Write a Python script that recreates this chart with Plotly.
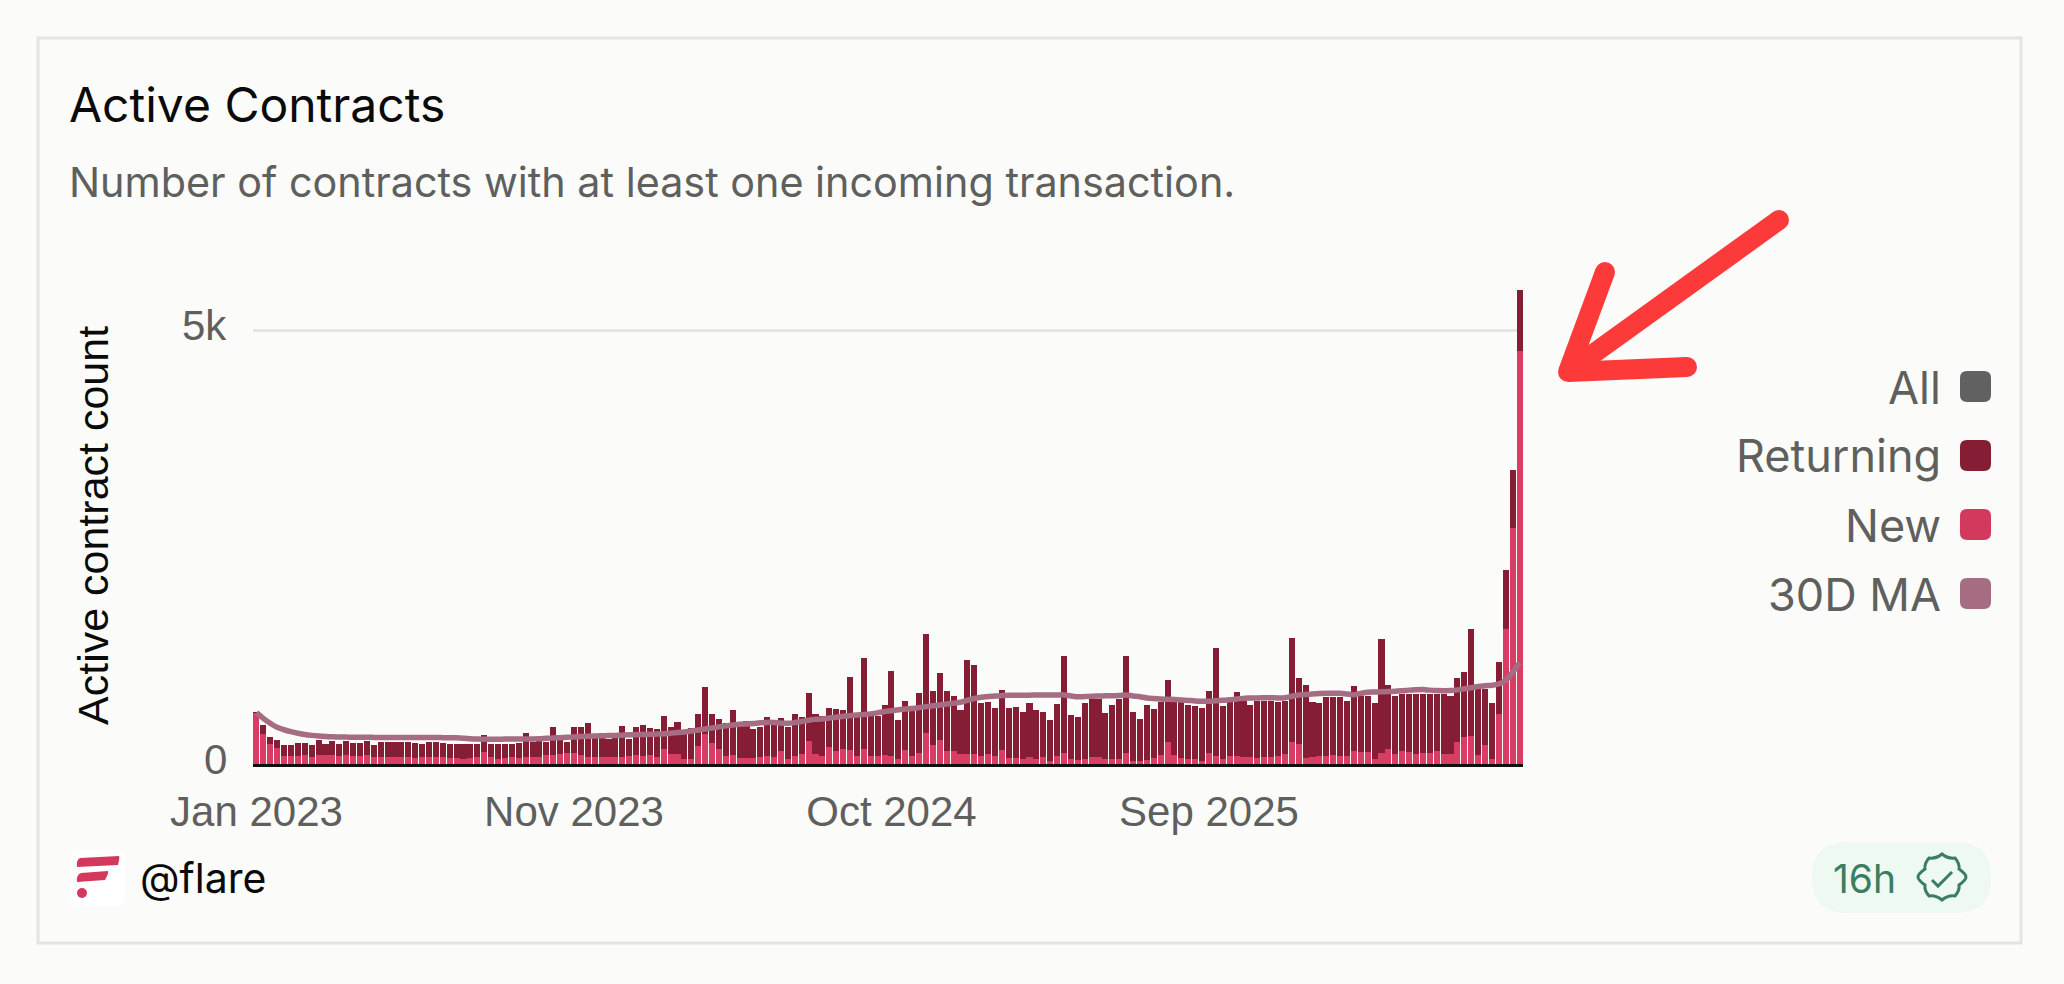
"""Active Contracts card: weekly new / returning stacked bars with a 30D MA line."""

import pandas as pd
import plotly.graph_objects as go

WIDTH = 2064
HEIGHT = 984

# Values, one per week.
ALL_COUNT = [
    593, 450, 316, 277, 219, 219, 239, 239, 219, 277, 227, 266, 227, 266, 246, 246,
    266, 216, 258, 258, 258, 258, 258, 246, 227, 258, 258, 246, 231, 231, 231, 231,
    231, 335, 231, 231, 231, 231, 246, 362, 258, 316, 258, 431, 335, 258, 431, 431,
    470, 296, 362, 285, 362, 439, 285, 424, 450, 420, 408, 558, 431, 485, 366, 416,
    578, 893, 578, 520, 477, 628, 443, 500, 400, 424, 539, 500, 531, 424, 574, 539,
    824, 578, 558, 643, 635, 624, 1001, 539, 1220, 578, 558, 685, 1070, 508, 732, 608,
    820, 1494, 847, 1051, 847, 782, 628, 1205, 1147, 705, 720, 647, 855, 647, 662, 604,
    701, 624, 597, 508, 693, 1247, 570, 539, 701, 751, 751, 585, 681, 751, 1244, 597,
    520, 681, 635, 712, 970, 712, 712, 685, 666, 647, 847, 1336, 666, 712, 828, 724,
    681, 724, 724, 724, 720, 724, 1448, 989, 912, 712, 701, 770, 770, 770, 724, 905,
    789, 789, 705, 1440, 912, 782, 808, 808, 808, 808, 808, 808, 808, 789, 993, 1059,
    1559, 866, 866, 705, 1174, 2238, 3391, 5467,
]
NEW_COUNT = [
    590, 347, 227, 181, 96, 96, 96, 104, 77, 104, 104, 104, 96, 104, 92, 92,
    104, 85, 77, 77, 77, 77, 77, 65, 77, 77, 77, 77, 65, 65, 54, 65,
    77, 142, 85, 54, 65, 77, 65, 77, 85, 77, 104, 104, 115, 123, 131, 104,
    85, 85, 77, 85, 77, 77, 92, 104, 92, 104, 85, 173, 116, 116, 58, 58,
    212, 347, 239, 173, 96, 108, 69, 69, 69, 85, 92, 77, 154, 58, 92, 116,
    262, 116, 96, 193, 146, 173, 166, 96, 173, 96, 96, 108, 96, 58, 166, 96,
    123, 358, 219, 277, 154, 146, 116, 116, 116, 96, 116, 96, 162, 69, 69, 54,
    77, 58, 77, 38, 96, 123, 58, 46, 58, 77, 77, 58, 58, 58, 123, 31,
    31, 46, 69, 108, 258, 108, 69, 62, 54, 31, 131, 96, 58, 96, 96, 77,
    77, 69, 77, 85, 92, 116, 250, 231, 69, 85, 96, 96, 104, 96, 89, 154,
    142, 135, 58, 123, 173, 116, 146, 135, 116, 127, 123, 154, 116, 116, 258, 316,
    327, 108, 219, 58, 578, 1557, 2722, 4764,
]
MA_30D = [
    593, 527, 470, 423, 395, 373, 355, 340, 330, 323, 318, 314, 312, 310, 308, 308,
    308, 307, 306, 306, 306, 306, 306, 306, 305, 305, 305, 304, 303, 302, 298, 292,
    288, 285, 285, 285, 287, 288, 289, 289, 289, 291, 296, 300, 304, 308, 312, 316,
    320, 323, 325, 328, 330, 333, 336, 338, 340, 342, 345, 348, 355, 362, 370, 380,
    392, 404, 415, 428, 440, 450, 458, 462, 468, 475, 480, 478, 472, 470, 478, 490,
    505, 515, 520, 531, 540, 550, 558, 565, 570, 578, 590, 605, 615, 625, 635, 640,
    650, 662, 672, 681, 692, 702, 712, 735, 755, 770, 778, 785, 789, 792, 793, 794,
    794, 795, 795, 795, 796, 797, 785, 775, 778, 782, 785, 786, 788, 790, 797, 785,
    775, 762, 755, 750, 747, 743, 738, 733, 728, 725, 724, 730, 735, 740, 750, 757,
    762, 762, 763, 764, 762, 765, 781, 795, 802, 808, 812, 815, 816, 816, 808, 800,
    815, 828, 830, 833, 836, 839, 845, 852, 856, 858, 852, 848, 846, 847, 855, 868,
    880, 893, 902, 908, 924, 963, 1059, 1165,
]
WEEKS = pd.date_range("2023-01-09", periods=len(ALL_COUNT), freq="7D")
RETURNING_COUNT = [a - n for a, n in zip(ALL_COUNT, NEW_COUNT)]
X_TICK_WEEKS = [WEEKS[0], WEEKS[46], WEEKS[92], WEEKS[138]]
Y_TICKS = [0, 5000]
Y_TICK_LABELS = ["0", "5k"]

LEGEND_LABELS = ["All", "Returning", "New", "30D MA"]

BACKGROUND = "#fbfbf9"
BORDER_COLOUR = "#e4e4e2"
GRID_COLOUR = "#e4e4e2"
MUTED_TEXT = "#5f5f5d"
DARK_TEXT = "#0a0a0a"
ALL_COLOUR = "#616161"
RETURNING_COLOUR = "#851d34"
NEW_COLOUR = "#d93d64"
NEW_SWATCH = "#d2395d"
MA_COLOUR = "#a66c81"
ARROW_COLOUR = "#fd3a3a"
BADGE_FILL = "#eef9f1"
BADGE_TEXT = "#3a7d62"
LEGEND_COLOURS = [ALL_COLOUR, RETURNING_COLOUR, NEW_SWATCH, MA_COLOUR]

UI_FONT = "Inter"
AXIS_FONT = "Liberation Sans"

# Plot area in page pixels
PLOT_LEFT, PLOT_RIGHT = 253, 1523
PLOT_TOP, PLOT_BOTTOM = 287, 764


def px(x, y):
    """Page pixels to paper coordinates (margins are zero, so paper is the page)."""
    return x / WIDTH, 1 - y / HEIGHT


def svg_path(commands):
    """Build a path from (letter, x, y, ...) tuples given in page pixels."""
    parts = []
    for cmd in commands:
        if len(cmd) == 1:
            parts.append(cmd[0])
            continue
        coords = []
        for i in range(1, len(cmd), 2):
            x, y = px(cmd[i], cmd[i + 1])
            coords.append(f"{x:.5f},{y:.5f}")
        parts.append(cmd[0] + " ".join(coords))
    return " ".join(parts)


def rounded_rect(x0, y0, x1, y1, r):
    return svg_path([
        ("M", x0 + r, y0),
        ("L", x1 - r, y0),
        ("Q", x1, y0, x1, y0 + r),
        ("L", x1, y1 - r),
        ("Q", x1, y1, x1 - r, y1),
        ("L", x0 + r, y1),
        ("Q", x0, y1, x0, y1 - r),
        ("L", x0, y0 + r),
        ("Q", x0, y0, x0 + r, y0),
        ("Z",),
    ])


def add_path(fig, path, fill=None, stroke=None, width=0):
    fig.add_shape(
        type="path",
        xref="paper",
        yref="paper",
        path=path,
        fillcolor=fill if fill else "rgba(0,0,0,0)",
        line={"color": stroke if stroke else "rgba(0,0,0,0)", "width": width},
        layer="above",
    )


def add_dot(fig, x, y, r, colour):
    x0, y0 = px(x - r, y + r)
    x1, y1 = px(x + r, y - r)
    fig.add_shape(
        type="circle", xref="paper", yref="paper",
        x0=x0, y0=y0, x1=x1, y1=y1,
        fillcolor=colour, line={"width": 0}, layer="above",
    )


def add_text(fig, x, y, text, size, colour, family=UI_FONT, anchor="left", angle=0):
    xp, yp = px(x, y)
    fig.add_annotation(
        x=xp, y=yp, xref="paper", yref="paper",
        text=text, showarrow=False, xanchor=anchor, yanchor="middle",
        textangle=angle, borderpad=0,
        font={"family": family, "size": size, "color": colour},
    )


fig = go.Figure()
fig.add_trace(go.Bar(x=WEEKS, y=NEW_COUNT, name="New", marker={"color": NEW_COLOUR, "line": {"width": 0}}))
fig.add_trace(go.Bar(x=WEEKS, y=RETURNING_COUNT, name="Returning", marker={"color": RETURNING_COLOUR, "line": {"width": 0}}))
fig.add_trace(go.Scatter(
    x=WEEKS, y=MA_30D, name="30D MA", mode="lines",
    line={"color": MA_COLOUR, "width": 5.5, "shape": "spline"},
))

half_week = pd.Timedelta(days=3.5)
fig.update_layout(
    width=WIDTH,
    height=HEIGHT,
    autosize=False,
    margin={"l": 0, "r": 0, "t": 0, "b": 0},
    paper_bgcolor=BACKGROUND,
    plot_bgcolor=BACKGROUND,
    barmode="stack",
    bargap=0.12,
    showlegend=False,
    xaxis={
        "domain": [PLOT_LEFT / WIDTH, PLOT_RIGHT / WIDTH],
        "range": [WEEKS[0] - half_week, WEEKS[-1] + half_week],
        "tickvals": X_TICK_WEEKS,
        "tickformat": "%b %Y",
        "ticks": "outside",
        "ticklen": 9,
        "tickcolor": "rgba(0,0,0,0)",
        "tickfont": {"family": AXIS_FONT, "size": 42, "color": MUTED_TEXT},
        "showgrid": False,
        "showline": True,
        "linecolor": "#111111",
        "linewidth": 2.5,
        "automargin": False,
    },
    yaxis={
        "domain": [1 - PLOT_BOTTOM / HEIGHT, 1 - PLOT_TOP / HEIGHT],
        "range": [0, (PLOT_BOTTOM - PLOT_TOP) / 0.0867],
        "tickvals": Y_TICKS,
        "showticklabels": False,
        "showgrid": True,
        "gridcolor": GRID_COLOUR,
        "gridwidth": 3,
        "zeroline": False,
        "automargin": False,
    },
)

# y tick labels sit a few pixels above their gridlines in the original
for value, label in zip(Y_TICKS, Y_TICK_LABELS):
    fig.add_annotation(
        x=229 / WIDTH, y=value, xref="paper", yref="y",
        text=label, showarrow=False, xanchor="right", yanchor="middle", yshift=5,
        font={"family": AXIS_FONT, "size": 42, "color": MUTED_TEXT},
    )

# card border
fig.add_shape(
    type="rect", xref="paper", yref="paper",
    x0=38 / WIDTH, x1=2021 / WIDTH, y0=1 - 943 / HEIGHT, y1=1 - 38 / HEIGHT,
    line={"color": BORDER_COLOUR, "width": 3}, layer="below",
)

add_text(fig, 68, 105, "Active Contracts", 48, DARK_TEXT)
add_text(fig, 68, 182, "Number of contracts with at least one incoming transaction.", 41.3, MUTED_TEXT)
add_text(fig, 93, 526, "Active contract count", 43, DARK_TEXT, family=AXIS_FONT, anchor="center", angle=-90)

# legend, labels sit left of the swatches
for i, (label, colour) in enumerate(zip(LEGEND_LABELS, LEGEND_COLOURS)):
    y0 = 371 + i * 69
    add_text(fig, 1942, y0 + 16, label, 45, MUTED_TEXT, anchor="right")
    add_path(fig, rounded_rect(1960, y0, 1991, y0 + 31, 7), fill=colour)

# annotation arrow drawn over the screenshot, dots round off the stroke ends
ARROW_WIDTH = 20
ARROW_TIP = (1568, 372)
ARROW_ENDS = [(1779, 220), (1605, 272), (1687, 367)]
for end in ARROW_ENDS:
    add_path(fig, svg_path([("M", *end), ("L", *ARROW_TIP)]), stroke=ARROW_COLOUR, width=ARROW_WIDTH)
    add_dot(fig, end[0], end[1], ARROW_WIDTH / 2, ARROW_COLOUR)
add_dot(fig, ARROW_TIP[0], ARROW_TIP[1], ARROW_WIDTH / 2, ARROW_COLOUR)

# flare logo
add_path(fig, rounded_rect(70, 850, 125, 906, 10), fill="#ffffff")
add_path(fig, svg_path([("M", 80, 858), ("L", 119, 856), ("Q", 120, 857, 118, 865), ("L", 77, 867), ("Q", 76, 860, 80, 858), ("Z",)]), fill=NEW_SWATCH)
add_path(fig, svg_path([("M", 81, 873), ("L", 108, 871), ("Q", 109, 873, 105, 880), ("L", 77, 882), ("Q", 76, 875, 81, 873), ("Z",)]), fill=NEW_SWATCH)
add_dot(fig, 82, 893, 5, NEW_SWATCH)
add_text(fig, 139, 878, "@flare", 41, DARK_TEXT)

# freshness badge
add_path(fig, rounded_rect(1812, 842, 1991, 913, 35), fill=BADGE_FILL)
add_text(fig, 1832, 878, "16h", 39, BADGE_TEXT)
add_path(fig, svg_path([
    ("M", 1942, 854),
    ("Q", 1948, 859, 1955, 858),
    ("Q", 1960, 864, 1959, 869),
    ("Q", 1966, 874, 1966, 877),
    ("Q", 1966, 880, 1959, 885),
    ("Q", 1960, 890, 1955, 896),
    ("Q", 1948, 895, 1942, 900),
    ("Q", 1936, 895, 1929, 896),
    ("Q", 1924, 890, 1925, 885),
    ("Q", 1918, 880, 1918, 877),
    ("Q", 1918, 874, 1925, 869),
    ("Q", 1924, 864, 1929, 858),
    ("Q", 1936, 859, 1942, 854),
    ("Z",),
]), stroke=BADGE_TEXT, width=3)
add_path(fig, svg_path([("M", 1932, 880), ("L", 1938, 886), ("L", 1952, 872)]), stroke=BADGE_TEXT, width=3)

# the default page margin would push the figure 8px in and leave a white frame
fig.write_html(
    "out.html",
    config={"displayModeBar": False},
    post_script=f"document.body.style.margin='0';document.body.style.background='{BACKGROUND}';",
)
